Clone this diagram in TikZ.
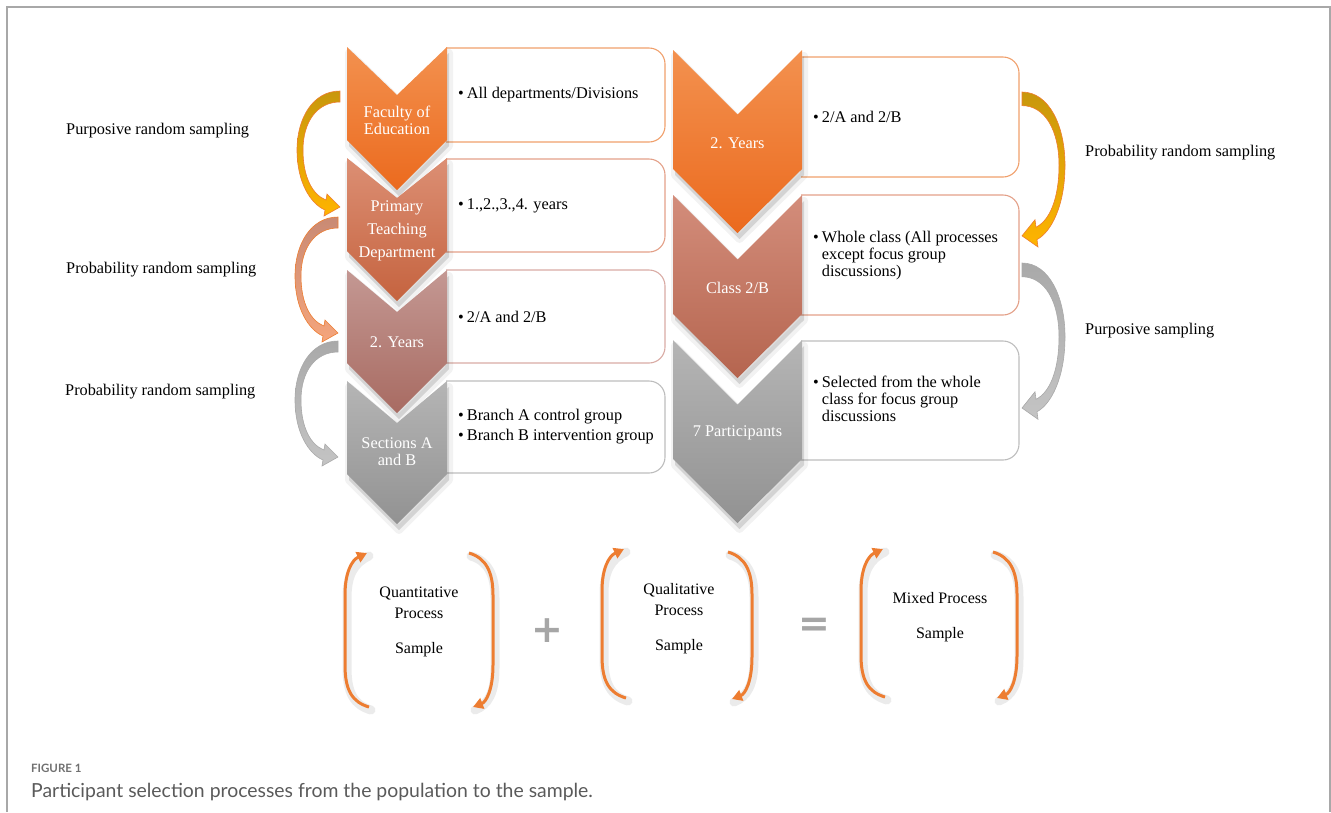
\documentclass[tikz,border=0pt]{standalone}
\usepackage{fontspec}
\setmainfont{Liberation Serif}
\newfontfamily\capfont{Lato}
\newfontfamily\symfont{DejaVu Sans}
\usetikzlibrary{arrows.meta}
\definecolor{frame}{HTML}{A8A8A8}
\definecolor{orA}{HTML}{F3914F}\definecolor{orB}{HTML}{EB6A1E}
\definecolor{teA}{HTML}{DC8F74}\definecolor{teB}{HTML}{C5633F}
\definecolor{roA}{HTML}{C49893}\definecolor{roB}{HTML}{A86B62}
\definecolor{grA}{HTML}{B5B5B5}\definecolor{grB}{HTML}{929292}
\definecolor{r2A}{HTML}{D38D7B}\definecolor{r2B}{HTML}{B5654F}
\definecolor{bx1}{HTML}{F0A06C}\definecolor{bx2}{HTML}{E3A088}
\definecolor{bx3}{HTML}{D9ABA4}\definecolor{bx4}{HTML}{BDBDBD}
\definecolor{brk}{HTML}{ED7D31}
\definecolor{symgray}{HTML}{A6A6A6}
\definecolor{capA}{HTML}{707070}\definecolor{capB}{HTML}{5A5A5A}
\definecolor{goldA}{HTML}{C8970C}\definecolor{goldB}{HTML}{FFB400}
\definecolor{salA}{HTML}{C98A74}\definecolor{salB}{HTML}{F5A57C}
\definecolor{arA}{HTML}{A9A9A9}\definecolor{arB}{HTML}{C4C4C4}
% #1 = top y, #2 = notch depth
\newcommand\chevL[2]{(347,#1) -- (397,#1+#2) -- (447,#1) -- (447,#1+93) -- (397,#1+143) -- (347,#1+93) -- cycle}
\newcommand\chevR[1]{(673,#1) -- (737.5,#1+64.5) -- (802,#1) -- (802,#1+119) -- (737.5,#1+183) -- (673,#1+119) -- cycle}
\newcommand\sampshape{(0,0) .. controls (-27,0) and (-43,27) .. (-43,59) .. controls (-43,92) and (-29,113) .. (-15,119) -- (-16,125) -- (0,116) -- (-13,103) -- (-14,109) .. controls (-27,104) and (-37,87) .. (-37,59) .. controls (-37,31) and (-23,11) .. (0,11) -- cycle}
\newcommand\lbrk[3]{(#1+24,#3) .. controls (#1+7,#3-5) and (#1,#3-17) .. (#1,#3-42) -- (#1,#2+42) .. controls (#1,#2+19) and (#1+7,#2+7) .. (#1+22,#2)}
\newcommand\rbrk[3]{(#1-24,#2) .. controls (#1-7,#2+5) and (#1,#2+19) .. (#1,#2+42) -- (#1,#3-42) .. controls (#1,#3-17) and (#1-7,#3-5) .. (#1-20,#3)}
\tikzset{
  chevtext/.style={text=white, align=center, inner sep=0, font=\fontsize{16.3}{16.8}\selectfont},
  boxtext/.style={anchor=west, align=left, inner sep=0, font=\fontsize{16.3}{17}\selectfont},
  sidelabel/.style={anchor=west, inner sep=0, font=\fontsize{16.3}{18}\selectfont},
  midtext/.style={inner sep=0, font=\fontsize{16}{18}\selectfont},
  boxline/.style={line width=1.1pt, rounded corners=16},
  chevshadow/.style={fill=black, opacity=0.13, draw=black, draw opacity=0.05, line width=8pt, line join=round},
  bracket/.style={draw=brk, line width=3pt, -{Triangle[length=10pt,width=11pt]}},
  brkshadow/.style={draw=black, opacity=0.08, line width=9pt, line cap=round},
  symtext/.style={text=symgray, inner sep=0, font=\symfont\bfseries\fontsize{38}{38}\selectfont},
}
\begin{document}
\begin{tikzpicture}[x=1pt,y=-1pt]
\useasboundingbox (0,0) rectangle (1331,812);
% frame
\draw[frame, line width=1.6pt] (7,812) -- (7,7) -- (1330,7) -- (1330,812);

% ---------- boxes (left column)
\draw[boxline, draw=bx1] (446,48) -- (665,48) -- (665,142) -- (446,142);
\draw[boxline, draw=bx2] (446,159) -- (665,159) -- (665,252) -- (446,252);
\draw[boxline, draw=bx3] (446,270) -- (665,270) -- (665,363) -- (446,363);
\draw[boxline, draw=bx4] (446,381) -- (665,381) -- (665,473) -- (446,473);
% ---------- boxes (right column)
\draw[boxline, draw=bx1] (801,57) -- (1019,57) -- (1019,177) -- (801,177);
\draw[boxline, draw=bx2] (801,195) -- (1019,195) -- (1019,315) -- (801,315);
\draw[boxline, draw=bx4] (801,341) -- (1019,341) -- (1019,460) -- (801,460);

% ---------- chevron shadows
\begin{scope}[shift={(2,6)}]
\filldraw[chevshadow] \chevL{47}{48};
\filldraw[chevshadow] \chevL{158}{40};
\filldraw[chevshadow] \chevL{270}{42};
\filldraw[chevshadow] \chevL{381}{42};
\filldraw[chevshadow] \chevR{50};
\filldraw[chevshadow] \chevR{195};
\filldraw[chevshadow] \chevR{340};
\end{scope}
% ---------- chevrons
\shade[top color=orA, bottom color=orB] \chevL{47}{48};
\shade[top color=teA, bottom color=teB] \chevL{158}{40};
\shade[top color=roA, bottom color=roB] \chevL{270}{42};
\shade[top color=grA, bottom color=grB] \chevL{381}{42};
\shade[top color=orA, bottom color=orB] \chevR{50};
\shade[top color=r2A, bottom color=r2B] \chevR{195};
\shade[top color=grA, bottom color=grB] \chevR{340};

% chevron texts
\node[chevtext] (c1) at (397,120) {Faculty of\\Education};
\node[chevtext, font=\fontsize{16.3}{23}\selectfont] (c2) at (397,231) {Primary\\Teaching\\Department};
\node[chevtext] (c3) at (397,342) {2. Years};
\node[chevtext, font=\fontsize{16.3}{17}\selectfont] (c4) at (397,452) {Sections A\\and B};
\node[chevtext] (r1) at (737.5,143) {2. Years};
\node[chevtext] (r2) at (737.5,288) {Class 2/B};
\node[chevtext] (r3) at (737.5,433) {7 Participants};

% box texts
\node[boxtext] (b1) at (458,95) {\textbullet\hspace{3pt}All departments/Divisions};
\node[boxtext] (b2) at (458,206) {\textbullet\hspace{3pt}1.,2.,3.,4. years};
\node[boxtext] (b3) at (458,317) {\textbullet\hspace{3pt}2/A and 2/B};
\node[boxtext, font=\fontsize{16.3}{20}\selectfont] (b4) at (458,427) {\textbullet\hspace{3pt}Branch A control group\\\textbullet\hspace{3pt}Branch B intervention group};
\node[boxtext] (rb1) at (813,117) {\textbullet\hspace{3pt}2/A and 2/B};
\node[boxtext] (rb2) at (813,256) {\begin{tabular}{@{}l@{\hspace{3pt}}l@{}}\textbullet & Whole class (All processes\\ & except focus group\\ & discussions)\end{tabular}};
\node[boxtext] (rb3) at (813,401) {\begin{tabular}{@{}l@{\hspace{3pt}}l@{}}\textbullet & Selected from the whole\\ & class for focus group\\ & discussions\end{tabular}};

% ---------- curved sampling arrows (left)
\begin{scope}[shift={(340,91)}]
\shade[top color=goldA, bottom color=goldB, draw=brk, line width=0.6pt] \sampshape;
\end{scope}
\begin{scope}[shift={(338,217)}]
\shade[top color=salA, bottom color=salB, draw=brk, line width=0.6pt] \sampshape;
\end{scope}
\begin{scope}[shift={(338,341)}]
\shade[top color=arA, bottom color=arB, draw=arA, line width=0.6pt] \sampshape;
\end{scope}
% ---------- curved sampling arrows (right)
\begin{scope}[shift={(1022,92)}, xscale=-1, yscale=1.24]
\shade[top color=goldA, bottom color=goldB, draw=brk, line width=0.6pt] \sampshape;
\end{scope}
\begin{scope}[shift={(1022,263)}, xscale=-1, yscale=1.25]
\shade[top color=arA, bottom color=arB, draw=arA, line width=0.6pt] \sampshape;
\end{scope}

% side labels
\node[sidelabel] (l1) at (66,131) {Purposive random sampling};
\node[sidelabel] (l2) at (66,270) {Probability random sampling};
\node[sidelabel] (l3) at (65,392) {Probability random sampling};
\node[sidelabel] (l4) at (1085,153) {Probability random sampling};
\node[sidelabel] (l5) at (1085,331) {Purposive sampling};

% ---------- brackets
\begin{scope}[shift={(2,3)}]
\draw[brkshadow] \lbrk{345}{553}{707};
\draw[brkshadow] \rbrk{493}{553}{707};
\draw[brkshadow] \lbrk{602}{549}{698};
\draw[brkshadow] \rbrk{752}{552}{699};
\draw[brkshadow] \lbrk{861}{549}{697};
\draw[brkshadow] \rbrk{1017}{552}{698};
\end{scope}
\draw[bracket] \lbrk{345}{553}{707};
\draw[bracket] \rbrk{493}{553}{707};
\draw[bracket] \lbrk{602}{549}{698};
\draw[bracket] \rbrk{752}{552}{699};
\draw[bracket] \lbrk{861}{549}{697};
\draw[bracket] \rbrk{1017}{552}{698};

\node[midtext] (q1) at (419,593) {Quantitative};
\node[midtext] (q2) at (419,613) {Process};
\node[midtext] (q3) at (419,650) {Sample};
\node[midtext] (k1) at (679,590) {Qualitative};
\node[midtext] (k2) at (679,610) {Process};
\node[midtext] (k3) at (679,647) {Sample};
\node[midtext] (m1) at (940,598) {Mixed Process};
\node[midtext] (m2) at (940,635) {Sample};
\node[symtext] (plus) at (547,631) {+};
\node[symtext] (eq) at (814,627) {=};

% ---------- caption
\node[anchor=west, inner sep=0, text=capA, font=\capfont\bfseries\fontsize{11.5}{14}\selectfont] (fig) at (31,768) {FIGURE 1};
\node[anchor=west, inner sep=0, text=capB, font=\capfont\fontsize{19.4}{22}\selectfont] (cap) at (31,792) {Participant selection processes from the population to the sample.};
\end{tikzpicture}
\end{document}
